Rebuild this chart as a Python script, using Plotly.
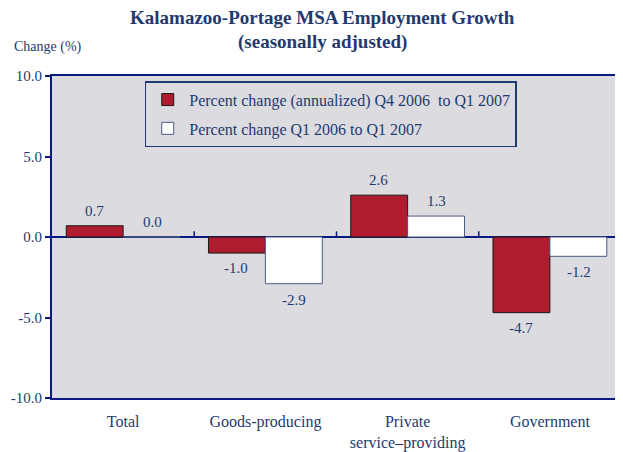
import plotly.graph_objects as go

categories = ["Total", "Goods-producing", "Private<br>service\u2013providing", "Government"]
annualized = [0.7, -1.0, 2.6, -4.7]
yearly = [0.0, -2.9, 1.3, -1.2]
series_names = ["Percent change (annualized) Q4 2006  to Q1 2007",
                "Percent change Q1 2006 to Q1 2007"]
y_ticks = [-10, -5, 0, 5, 10]
y_tick_labels = ["-10.0", "-5.0", "0.0", "5.0", "10.0"]

NAVY = "#1f3a6e"
AXIS = "#0a1a80"
RED = "#ae1c2e"
FONT = "Liberation Serif"

fig = go.Figure()
fig.add_trace(go.Bar(x=categories, y=annualized, name=series_names[0],
                     marker=dict(color=RED, line=dict(color="#1a1a1a", width=1)),
                     legendgroup="a"))
fig.add_trace(go.Bar(x=categories, y=yearly, name=series_names[1],
                     marker=dict(color="white", line=dict(color="#4a5a80", width=1)),
                     legendgroup="b"))

# value labels
for c, v in zip(categories, annualized):
    fig.add_annotation(x=c, y=v, text=f"{v:.1f}", showarrow=False, xshift=-29,
                       yshift=15 if v >= 0 else -15, yanchor="middle",
                       font=dict(family=FONT, size=15, color=NAVY))
for c, v in zip(categories, yearly):
    fig.add_annotation(x=c, y=v, text=f"{v:.1f}", showarrow=False, xshift=29,
                       yshift=15 if v >= 0 else -16, yanchor="middle",
                       font=dict(family=FONT, size=15, color=NAVY))

# category boundary ticks on the zero line
for b in [0.5, 1.5, 2.5]:
    fig.add_shape(type="line", xref="x", yref="y", x0=b, x1=b, y0=0, y1=0.35,
                  line=dict(color=AXIS, width=1.5))

fig.add_annotation(xref="paper", yref="paper", x=0.475, y=1, yshift=59,
                   text="<b>Kalamazoo-Portage MSA Employment Growth</b>",
                   showarrow=False, font=dict(family=FONT, size=19, color=NAVY),
                   yanchor="middle")
fig.add_annotation(xref="paper", yref="paper", x=0.475, y=1, yshift=34,
                   text="<b>(seasonally adjusted)</b>",
                   showarrow=False, font=dict(family=FONT, size=19, color=NAVY),
                   yanchor="middle")
fig.add_annotation(xref="paper", yref="paper", x=0, xshift=-40, y=1, yshift=29,
                   text="Change (%)", xanchor="left", yanchor="middle",
                   showarrow=False, font=dict(family=FONT, size=14, color=NAVY))

fig.update_layout(
    width=615, height=444,
    margin=dict(l=44, r=0, t=68, b=54),
    paper_bgcolor="white", plot_bgcolor="#dcdbe0",
    barmode="group", bargap=0.2, bargroupgap=0,
    font=dict(family=FONT, size=16, color=NAVY),
    showlegend=True,
    legend=dict(x=0.163, y=0.984, xanchor="left", yanchor="top",
                bgcolor="#dcdbe0", bordercolor="#1f3a6e", borderwidth=1.5,
                font=dict(family=FONT, size=16, color=NAVY),
                traceorder="grouped", tracegroupgap=5, itemwidth=33,
                entrywidth=357, entrywidthmode="pixels"),
)
fig.update_xaxes(showline=True, linecolor=AXIS, linewidth=2, mirror=True,
                 ticks="", ticklabelstandoff=8,
                 tickfont=dict(family=FONT, size=16, color=NAVY))
fig.update_yaxes(range=[-10, 10], tickvals=y_ticks, ticktext=y_tick_labels,
                 showgrid=False, zeroline=True, zerolinecolor=AXIS, zerolinewidth=2,
                 showline=True, linecolor=AXIS, linewidth=2, mirror=True,
                 ticks="outside", ticklen=5, tickcolor=AXIS, tickwidth=1.5,
                 tickfont=dict(family=FONT, size=15, color=NAVY))

fig.write_html("out.html")
